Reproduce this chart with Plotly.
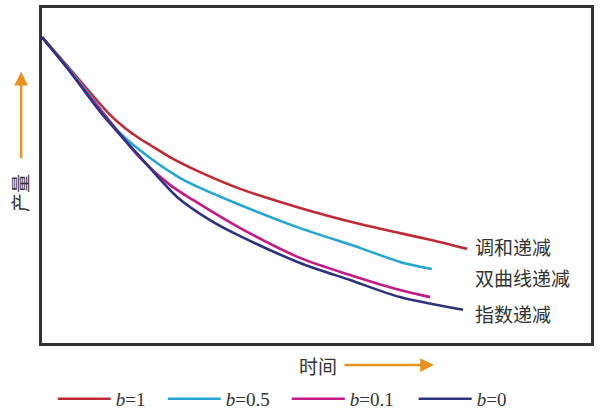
import plotly.graph_objects as go

# time / production (arbitrary units)
t_harmonic = [0, 4.6, 8.7, 12.4, 15.1, 17.9, 19.7, 23.3, 28.8, 36.1, 47.0, 57.9, 65.2, 70.7, 77.4]
q_harmonic = [91.3, 82.7, 74.9, 68.1, 64.2, 60.9, 59.1, 55.5, 51.0, 46.0, 40.3, 35.5, 32.8, 30.8, 28.1]

t_hyper = [0, 4.6, 8.7, 14.2, 19.7, 25.1, 28.8, 36.1, 47.0, 57.9, 65.2, 71.0]
q_hyper = [91.3, 82.4, 74.0, 62.7, 55.2, 49.3, 46.3, 41.2, 34.3, 28.4, 24.2, 22.1]

t_b01 = [0, 4.6, 10.6, 17.9, 23.3, 27.5, 36.1, 47.0, 56.1, 65.2, 70.7]
q_b01 = [91.3, 82.1, 69.6, 55.2, 47.2, 42.7, 34.3, 25.4, 20.3, 15.8, 13.7]

t_exp = [0, 4.6, 10.6, 17.9, 24.6, 30.6, 36.1, 47.0, 56.1, 65.2, 76.7]
q_exp = [91.3, 82.1, 69.0, 55.5, 43.6, 36.7, 31.9, 23.9, 18.8, 13.7, 9.9]

series = [
    ("<i>b</i>=1", t_harmonic, q_harmonic, "#BF2A34"),
    ("<i>b</i>=0.5", t_hyper, q_hyper, "#22A7D4"),
    ("<i>b</i>=0.1", t_b01, q_b01, "#C51A86"),
    ("<i>b</i>=0", t_exp, q_exp, "#2E3380"),
]
curve_labels = ["调和递减", "双曲线递减", "指数递减"]

ORANGE = "#E8921F"
CJK = "Noto Sans CJK SC"

fig = go.Figure()
legend_ids = ["legend", "legend2", "legend3", "legend4"]
for (name, t, q, c), lg in zip(series, legend_ids):
    fig.add_trace(go.Scatter(
        x=t, y=q, mode="lines", name=name, legend=lg,
        line=dict(color=c, width=2.6, shape="spline", smoothing=0.8),
    ))

# labels at the right end of the curves
lbl_font = dict(family=CJK, size=19, color="#333")
fig.add_annotation(x=78.5, y=q_harmonic[-1] + 0.8, text=curve_labels[0], xanchor="left",
                   showarrow=False, font=lbl_font)
fig.add_annotation(x=78.5, y=19.5, text=curve_labels[1], xanchor="left",
                   showarrow=False, font=lbl_font)
fig.add_annotation(x=78.5, y=q_exp[-1] - 1.0, text=curve_labels[2], xanchor="left",
                   showarrow=False, font=lbl_font)

# axis titles with orange arrows
fig.add_annotation(xref="paper", yref="paper", x=-0.04, y=0.448, text="产量", textangle=-90,
                   xanchor="center", yanchor="middle", showarrow=False, font=lbl_font)
fig.add_annotation(xref="paper", yref="paper", x=-0.038, y=0.81, ax=0, ay=88,
                   text="", showarrow=True, arrowhead=2, arrowsize=1.1,
                   arrowwidth=2.5, arrowcolor=ORANGE)
fig.add_annotation(xref="paper", yref="paper", x=0.503, y=-0.066, text="时间",
                   xanchor="center", yanchor="middle", showarrow=False, font=lbl_font)
fig.add_annotation(xref="paper", yref="paper", x=0.714, y=-0.066, ax=-91, ay=0,
                   text="", showarrow=True, arrowhead=2, arrowsize=1.1,
                   arrowwidth=2.5, arrowcolor=ORANGE)

fig.update_xaxes(range=[0, 100], showgrid=False, zeroline=False, showticklabels=False,
                 ticks="", showline=True, mirror=True, linecolor="#333", linewidth=2.5)
fig.update_yaxes(range=[0, 100], showgrid=False, zeroline=False, showticklabels=False,
                 ticks="", showline=True, mirror=True, linecolor="#333", linewidth=2.5)

legend_style = dict(orientation="h", y=-0.11, xanchor="left", yanchor="top", itemwidth=53,
                    font=dict(family="Liberation Serif", size=19, color="#333"),
                    bgcolor="rgba(0,0,0,0)")
fig.update_layout(
    width=600, height=412,
    margin=dict(l=42, r=9, t=8, b=69, autoexpand=False),
    plot_bgcolor="white", paper_bgcolor="white",
    showlegend=True,
    legend=dict(x=0.0195, **legend_style),
    legend2=dict(x=0.2199, **legend_style),
    legend3=dict(x=0.4458, **legend_style),
    legend4=dict(x=0.677, **legend_style),
)

# drop the page's default body margin so the figure sits at the window corner
fig.write_html("out.html", config={"displayModeBar": False},
               post_script="document.body.style.margin='0';")
